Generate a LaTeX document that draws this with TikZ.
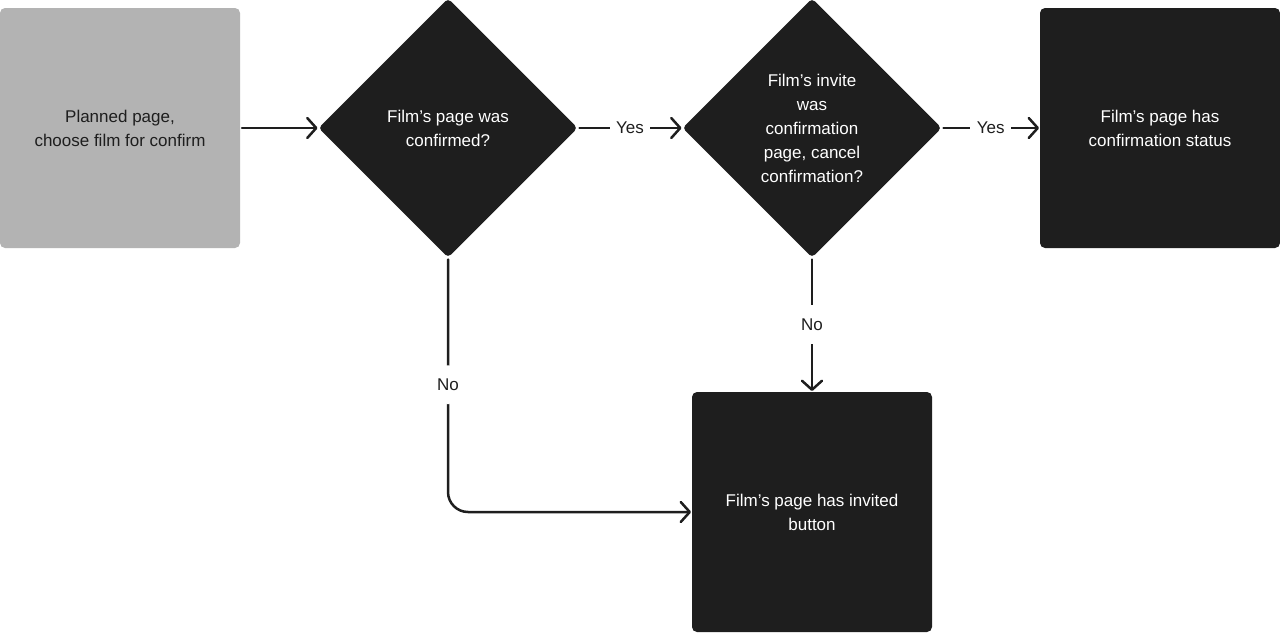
\documentclass[tikz,border=0pt]{standalone}
\usepackage{fontspec}
\setmainfont{Liberation Sans}
\usetikzlibrary{shapes.geometric,arrows.meta}
\definecolor{ink}{HTML}{1E1E1E}
\definecolor{stone}{HTML}{B3B3B3}
\begin{document}
\begin{tikzpicture}[x=1pt, y=-1pt,
    every node/.style={font=\fontsize{17pt}{24pt}\selectfont, align=center},
    stepbox/.style={fill=ink, text=white, rounded corners=5pt, minimum width=240pt, minimum height=240pt, inner sep=0pt, outer sep=0pt},
    startbox/.style={stepbox, fill=stone, text=ink},
    query/.style={diamond, fill=ink, text=white, rounded corners=4pt, minimum width=259pt, minimum height=259pt, inner sep=0pt, outer sep=0pt},
    conn/.style={draw=ink, line width=2.5pt, line cap=round, line join=round, shorten <=2pt, shorten >=1pt,
        -{Straight Barb[length=9pt, width=20pt, line join=round, line cap=round]}},
    lbl/.style={fill=white, text=ink, inner xsep=6.5pt, inner ysep=13.5pt}]
    \useasboundingbox (0,0) rectangle (1280,632);

    \node[startbox] (plan) at (120,128) {Planned page,\\choose film for confirm};
    \node[query] (filmok) at (448,128) {Film’s page was\\confirmed?};
    \node[query] (invite) at (812,128) {Film’s invite\\was\\confirmation\\page, cancel\\confirmation?};
    \node[stepbox] (status) at (1160,128) {Film’s page has\\confirmation status};
    \node[stepbox] (button) at (812,512) {Film’s page has invited\\button};

    \draw[conn] (plan) -- (filmok);
    \draw[conn] (filmok.east) -- node[lbl] {Yes} (invite.west);
    \draw[conn] (invite.east) -- node[lbl] {Yes} (status.west);
    \draw[conn] (invite.south) -- node[lbl] {No} (button.north);
    \draw[conn, rounded corners=20pt] (filmok.south) -- node[lbl] {No} (filmok.south |- button.west) -- (button.west);
\end{tikzpicture}
\end{document}
